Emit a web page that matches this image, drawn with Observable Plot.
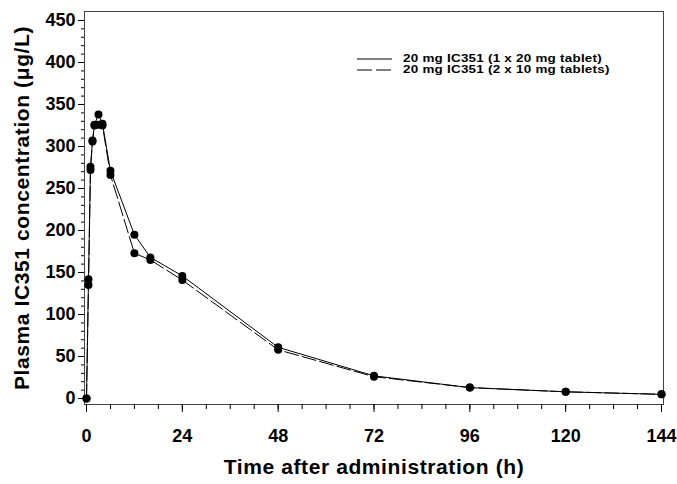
<!DOCTYPE html>
<html>
<head>
<meta charset="utf-8">
<script src="https://cdn.jsdelivr.net/npm/d3@7"></script>
<script src="https://cdn.jsdelivr.net/npm/@observablehq/plot@0.6"></script>
<style>
  body { margin: 0; background: #fff; }
  #wrap { position: relative; width: 677px; height: 484px; font-family: "Liberation Sans", Arial, sans-serif; }
  #legend { position: absolute; left: 357px; top: 53px; font-size: 11px; line-height: 11px; color: #000; font-weight: bold; }
  #legend .row { display: flex; align-items: center; height: 11px; white-space: nowrap; }
  #legend svg { margin-right: 11px; flex: none; }
  #legend span { display: inline-block; transform: scaleX(1.22); transform-origin: left center; letter-spacing: 0.2px; }
</style>
</head>
<body>
<div id="wrap"></div>
<script>
const times = [0, 0.5, 1, 1.5, 2, 3, 4, 6, 12, 16, 24, 48, 72, 96, 120, 144];
const tablet1x20 = [0, 142, 276, 307, 326, 338, 327, 271, 195, 168, 146, 61, 27, 13, 8, 5];
const tablets2x10 = [0, 135, 272, 306, 325, 326, 325, 266, 173, 165, 141, 58, 26, 13, 8, 5];
const seriesNames = ["20 mg IC351 (1 x 20 mg tablet)", "20 mg IC351 (2 x 10 mg tablets)"];
const xTicks = [0, 24, 48, 72, 96, 120, 144];
const yTicks = [0, 50, 100, 150, 200, 250, 300, 350, 400, 450];
const xMinor = d3.range(0, 145, 6);
const yMinor = d3.range(0, 451, 10);
const xTitle = "Time after administration (h)";
const yTitle = "Plasma IC351 concentration (\u03BCg/L)";

const rows1 = times.map((t, i) => ({t, c: tablet1x20[i]}));
const rows2 = times.map((t, i) => ({t, c: tablets2x10[i]}));

const font = "Liberation Sans, Arial, sans-serif";

const chart = Plot.plot({
  width: 677,
  height: 484,
  marginLeft: 84,
  marginRight: 14,
  marginTop: 11,
  marginBottom: 80,
  style: {fontFamily: font, background: "#fff", color: "#000"},
  x: {domain: [-0.5, 144.5], label: null},
  y: {domain: [-7.1, 460.7], label: null},
  marks: [
    Plot.frame({stroke: "#444", strokeWidth: 1}),
    Plot.axisX({ticks: xMinor, tickSize: 5, text: null, label: null, stroke: "#000"}),
    Plot.axisX({ticks: xTicks, tickSize: 8, tickPadding: 17, fontSize: 18, fontWeight: "bold", label: null, stroke: "#000"}),
    Plot.axisY({ticks: yMinor, tickSize: 3, text: null, label: null, stroke: "#000"}),
    Plot.axisY({ticks: yTicks, tickSize: 6, tickPadding: 3, fontSize: 18, fontWeight: "bold", label: null, stroke: "#000"}),
    Plot.text([xTitle], {frameAnchor: "bottom", textAnchor: "middle", dy: 69, fontSize: 21, fontWeight: "bold", fill: "#000", style: {letterSpacing: "0.6px"}}),
    Plot.text([yTitle], {frameAnchor: "left", textAnchor: "middle", rotate: -90, dx: -62, fontSize: 21, fontWeight: "bold", fill: "#000"}),
    Plot.line(rows2, {x: "t", y: "c", stroke: "#000", strokeWidth: 1, strokeDasharray: "14,4"}),
    Plot.line(rows1, {x: "t", y: "c", stroke: "#000", strokeWidth: 1}),
    Plot.dot(rows2, {x: "t", y: "c", r: 4, fill: "#000", stroke: "none"}),
    Plot.dot(rows1, {x: "t", y: "c", r: 4, fill: "#000", stroke: "none"})
  ]
});

const wrap = document.getElementById("wrap");
wrap.appendChild(chart);
// widen the title letter spacing slightly, as in the reference
chart.querySelectorAll("text").forEach(t => {
  if (t.textContent === xTitle || t.textContent === yTitle) t.setAttribute("letter-spacing", "0.6");
});

const legend = document.createElement("div");
legend.id = "legend";
seriesNames.forEach((name, i) => {
  const row = document.createElement("div");
  row.className = "row";
  const dash = i === 0 ? "" : ' stroke-dasharray="15,4"';
  row.innerHTML = `<svg width="35" height="4"><line x1="0" x2="35" y1="2" y2="2" stroke="#000" stroke-width="1"${dash}/></svg><span>${name}</span>`;
  legend.appendChild(row);
});
wrap.appendChild(legend);
</script>
</body>
</html>
